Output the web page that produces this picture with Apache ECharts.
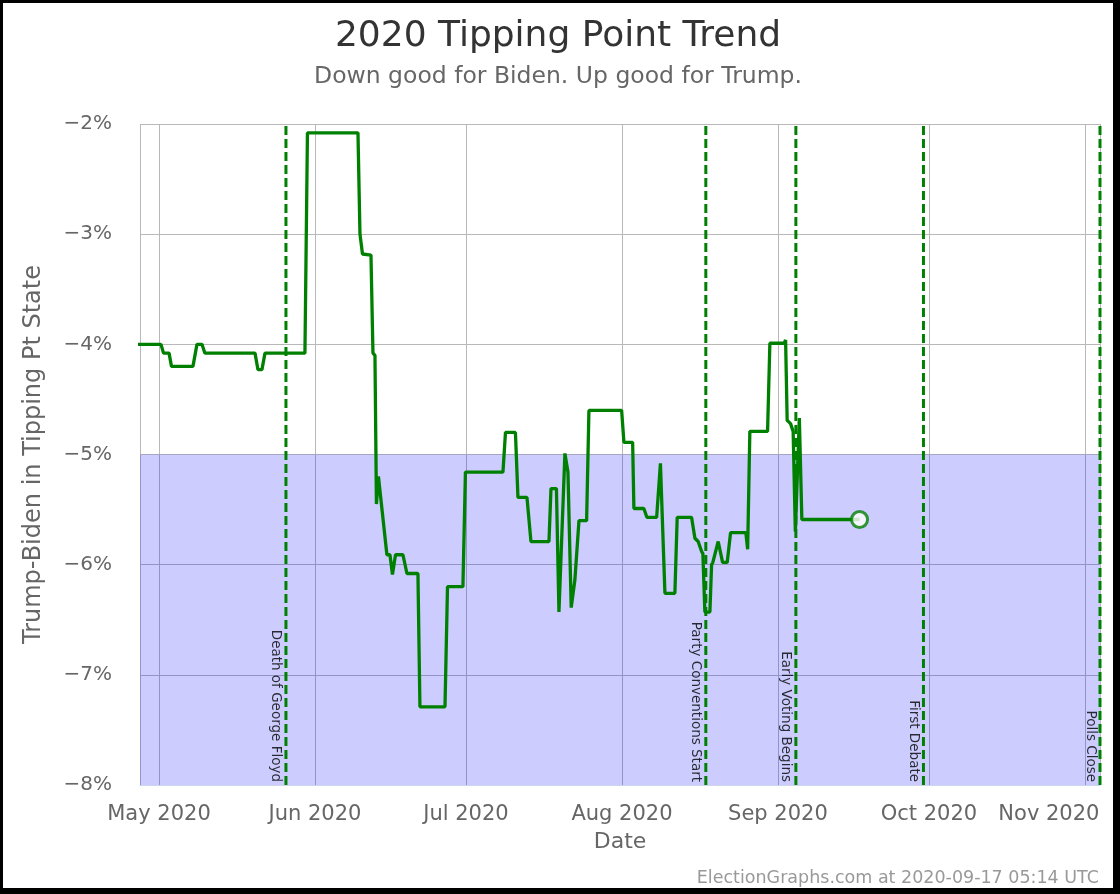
<!DOCTYPE html>
<html><head><meta charset="utf-8">
<script src="https://cdn.jsdelivr.net/npm/echarts@6/dist/echarts.min.js"></script>
<style>
html,body{margin:0;padding:0;background:#000;width:1120px;height:894px;overflow:hidden;}
#c{position:absolute;left:3px;top:3px;width:1110px;height:885px;background:#fff;}
</style>
</head><body><div id="c"></div><script>
// ---- data ----
const dates = [
 '2020-04-26T00:00Z','2020-05-01T09:30Z','2020-05-01T21:30Z','2020-05-03T00:00Z','2020-05-03T11:30Z',
 '2020-05-07T18:00Z','2020-05-08T13:00Z','2020-05-09T13:00Z','2020-05-10T03:00Z','2020-05-20T02:00Z',
 '2020-05-20T16:00Z','2020-05-21T11:00Z','2020-05-22T01:30Z','2020-05-30T00:00Z','2020-05-30T12:00Z',
 '2020-06-09T13:00Z','2020-06-09T22:30Z','2020-06-10T10:30Z','2020-06-12T03:00Z','2020-06-12T12:30Z',
 '2020-06-12T22:00Z','2020-06-13T05:00Z','2020-06-13T14:30Z','2020-06-15T07:00Z','2020-06-15T21:30Z',
 '2020-06-16T09:30Z','2020-06-17T00:00Z','2020-06-18T11:30Z','2020-06-19T06:30Z','2020-06-21T11:00Z',
 '2020-06-21T20:30Z','2020-06-26T20:00Z','2020-06-27T08:00Z','2020-06-30T09:30Z','2020-06-30T21:30Z',
 '2020-07-08T08:30Z','2020-07-08T20:30Z','2020-07-10T20:00Z','2020-07-11T08:00Z','2020-07-13T03:00Z',
 '2020-07-13T22:00Z','2020-07-17T12:00Z','2020-07-17T21:30Z','2020-07-18T23:30Z','2020-07-19T11:30Z',
 '2020-07-20T16:00Z','2020-07-21T06:30Z','2020-07-21T22:00Z','2020-07-22T15:30Z','2020-07-23T01:00Z',
 '2020-07-23T11:00Z','2020-07-24T23:30Z','2020-07-25T10:30Z','2020-07-31T22:30Z','2020-08-01T09:30Z',
 '2020-08-03T03:00Z','2020-08-03T09:00Z','2020-08-05T08:30Z','2020-08-05T23:00Z','2020-08-07T21:30Z',
 '2020-08-08T15:30Z','2020-08-09T13:00Z','2020-08-11T12:30Z','2020-08-11T23:30Z','2020-08-14T20:00Z',
 '2020-08-15T12:00Z','2020-08-16T03:30Z','2020-08-16T20:00Z','2020-08-17T02:00Z','2020-08-17T11:30Z',
 '2020-08-18T11:30Z','2020-08-18T19:30Z','2020-08-19T01:30Z','2020-08-20T03:00Z','2020-08-21T00:00Z',
 '2020-08-21T22:00Z','2020-08-22T14:00Z','2020-08-25T15:00Z','2020-08-25T23:30Z','2020-08-26T10:00Z',
 '2020-08-29T22:30Z','2020-08-30T09:30Z','2020-09-02T06:00Z','2020-09-02T12:30Z','2020-09-02T20:00Z',
 '2020-09-03T12:00Z','2020-09-04T00:30Z','2020-09-04T11:00Z','2020-09-05T06:00Z','2020-09-05T18:00Z',
 '2020-09-17T05:14Z'
];
const values = [
 -4.0,-4.0,-4.08,-4.08,-4.2,
 -4.2,-4.0,-4.0,-4.08,-4.08,
 -4.23,-4.23,-4.08,-4.08,-2.08,
 -2.08,-3.0,-3.18,-3.19,-4.08,
 -4.1,-5.45,-5.2,-5.91,-5.91,
 -6.09,-5.91,-5.91,-6.08,-6.08,
 -7.29,-7.29,-6.2,-6.2,-5.16,
 -5.16,-4.8,-4.8,-5.39,-5.39,
 -5.79,-5.79,-5.31,-5.31,-6.43,
 -4.99,-5.16,-6.39,-6.14,-6.14,
 -5.6,-5.6,-4.6,-4.6,-4.89,
 -4.89,-5.49,-5.49,-5.57,-5.57,
 -5.08,-6.26,-6.26,-5.57,-5.57,
 -5.76,-5.79,-5.88,-5.9,-6.43,
 -6.43,-6.0,-5.98,-5.79,-5.98,
 -5.98,-5.71,-5.71,-5.86,-4.79,
 -4.79,-3.99,-3.99,-3.96,-4.69,
 -4.72,-4.79,-5.7,-4.67,-5.59,
 -5.59
];
const eventNames = ['Death of George Floyd','Party Conventions Start','Early Voting Begins','First Debate','Polls Close'];
const eventDates = ['2020-05-26T05:30Z','2020-08-17T16:00Z','2020-09-04T13:30Z','2020-09-29T22:00Z','2020-11-04T00:00Z'];
const monthNames = ['Jan','Feb','Mar','Apr','May','Jun','Jul','Aug','Sep','Oct','Nov','Dec'];
const xRange = ['2020-04-27T05:24Z','2020-11-04T00:00Z'];
const yRange = [-8, -2];
const bandRange = [-5, -8];
const titleText = '2020 Tipping Point Trend';
const subText = 'Down good for Biden. Up good for Trump.';
const footerText = 'ElectionGraphs.com at 2020-09-17 05:14 UTC';

// ---- chart ----
const FONT = 'DejaVu Sans';
const GREEN = '#008000';
const chart = echarts.init(document.getElementById('c'), null, {renderer: 'canvas'});
const lineData = dates.map((d, i) => [Date.parse(d), values[i]]);
const last = lineData[lineData.length - 1];

const series = [];
series.push({
  type: 'line', data: [[Date.parse(xRange[0]), yRange[0]]], symbol: 'none', silent: true, z: 1,
  lineStyle: {width: 0},
  markArea: {silent: true, itemStyle: {color: 'rgba(0,0,255,0.2)'},
    data: [[{yAxis: bandRange[0]}, {yAxis: bandRange[1]}]]}
});
eventDates.forEach((d, i) => {
  const t = Date.parse(d);
  series.push({
    type: 'line', data: [[t, yRange[0]], [t, yRange[1]]], symbol: 'none', silent: true, z: 2,
    lineStyle: {color: GREEN, width: 3, type: [9, 4]}
  });
  series.push({
    type: 'scatter', data: [[t, yRange[0]]], symbolSize: 0, silent: true, z: 2,
    label: {show: true, formatter: eventNames[i], rotate: -90, position: [-3, -3],
      align: 'right', verticalAlign: 'top', fontFamily: FONT, fontSize: 13.5, color: '#000'}
  });
});
series.push({
  type: 'line', data: lineData, symbol: 'none', z: 3,
  lineStyle: {color: GREEN, width: 3.3}
});
series.push({
  type: 'scatter', data: [last], z: 4, symbol: 'circle', symbolSize: 16,
  itemStyle: {color: '#fff', borderColor: GREEN, borderWidth: 3}
});

chart.setOption({
  useUTC: true,
  animation: false,
  backgroundColor: '#fff',
  title: [
    {text: titleText, subtext: subText, left: 'center', top: 11, itemGap: 10,
     textStyle: {fontFamily: FONT, fontSize: 36, fontWeight: 'normal', color: '#333'},
     subtextStyle: {fontFamily: FONT, fontSize: 23.5, color: '#666'}},
    {text: footerText, right: 14, bottom: 1, padding: 0,
     textStyle: {fontFamily: FONT, fontSize: 17.5, fontWeight: 'normal', color: '#999'}}
  ],
  grid: {left: 137, right: 13, top: 121, bottom: 103},
  xAxis: {
    type: 'time', min: Date.parse(xRange[0]), max: Date.parse(xRange[1]),
    splitNumber: 7, minInterval: 28 * 86400000,
    name: 'Date', nameLocation: 'middle', nameGap: 46,
    nameTextStyle: {fontFamily: FONT, fontSize: 22, color: '#666'},
    axisLine: {show: true, lineStyle: {color: '#ccd6eb'}},
    axisTick: {show: false},
    splitLine: {show: true, lineStyle: {color: '#b8b8b8', width: 1}},
    axisLabel: {
      fontFamily: FONT, fontSize: 21, color: '#666', margin: 19,
      showMinLabel: false, showMaxLabel: false,
      formatter: function (v) {
        const d = new Date(v);
        const s = monthNames[d.getUTCMonth()] + ' ' + d.getUTCFullYear();
        return d.getUTCMonth() === 10 ? '{n|' + s + '}' : s;
      },
      rich: {n: {fontFamily: FONT, fontSize: 21, color: '#666', padding: [0, 72, 0, 0]}}
    }
  },
  yAxis: {
    type: 'value', min: yRange[0], max: yRange[1], interval: 1,
    name: 'Trump-Biden in Tipping Pt State', nameLocation: 'middle', nameGap: 94,
    nameTextStyle: {fontFamily: FONT, fontSize: 24, color: '#666'},
    axisLine: {show: false}, axisTick: {show: false},
    splitLine: {show: true, lineStyle: {color: '#b8b8b8', width: 1}},
    axisLabel: {fontFamily: FONT, fontSize: 20, color: '#666', margin: 28,
      formatter: v => (v < 0 ? '\u2212' : '') + Math.abs(v) + '%'}
  },
  series: series
});
</script></body></html>
